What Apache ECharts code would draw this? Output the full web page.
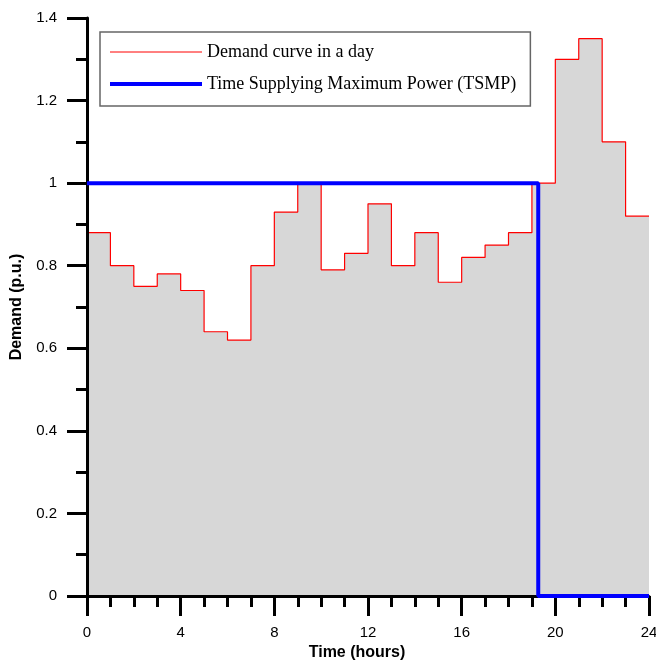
<!DOCTYPE html>
<html><head><meta charset="utf-8">
<script src="https://cdn.jsdelivr.net/npm/echarts@6/dist/echarts.min.js"></script>
<style>html,body{margin:0;padding:0;background:#fff}#c{width:656px;height:662px}</style>
</head><body><div id="c"></div>
<script>
const hours = [0,1,2,3,4,5,6,7,8,9,10,11,12,13,14,15,16,17,18,19,20,21,22,23,24];
const demand = [0.88,0.80,0.75,0.78,0.74,0.64,0.62,0.80,0.93,1.00,0.79,0.83,0.95,0.80,0.88,0.76,0.82,0.85,0.88,1.00,1.30,1.35,1.10,0.92,0.92];
const tsmpX = [0,19.27,19.27,24];
const tsmpY = [1,1,0,0];
const xTicks = [0,4,8,12,16,20,24];
const yTicks = [0,0.2,0.4,0.6,0.8,1,1.2,1.4];

const chart = echarts.init(document.getElementById('c'));
chart.setOption({
  animation:false,
  grid:{left:87,right:7,top:18,bottom:66,outerBoundsMode:'none',containLabel:false},
  legend:{
    orient:'vertical', left:100, top:32,
    padding:[11,14,13,8], itemWidth:92, itemHeight:14, itemGap:14,
    borderColor:'#666', borderWidth:1.5, backgroundColor:'#fff',
    textStyle:{fontFamily:'Liberation Serif, Times New Roman, serif', fontSize:18, color:'#000'},
    data:[
      {name:'Demand curve in a day', lineStyle:{width:1}, itemStyle:{opacity:0}},
      {name:'Time Supplying Maximum Power (TSMP)', lineStyle:{width:4}, itemStyle:{opacity:0}}
    ]
  },
  xAxis:{
    type:'value', min:0, max:24, interval:4, z:3,
    name:'Time (hours)', nameLocation:'middle', nameGap:48,
    nameTextStyle:{fontFamily:'Liberation Sans, Arial', fontWeight:'bold', fontSize:16, color:'#000', padding:[0,22,0,0]},
    axisLine:{lineStyle:{color:'#000',width:3}},
    axisTick:{length:20,lineStyle:{color:'#000',width:3}},
    minorTick:{show:true,splitNumber:4,length:11,lineStyle:{color:'#000',width:3}},
    axisLabel:{margin:29,fontFamily:'Liberation Sans, Arial',fontSize:15,color:'#000',
      formatter:v=>xTicks.includes(v)?String(v):''},
    splitLine:{show:false}
  },
  yAxis:{
    type:'value', min:0, max:1.4, interval:0.2, z:3,
    name:'Demand (p.u.)', nameLocation:'middle', nameGap:62,
    nameTextStyle:{fontFamily:'Liberation Sans, Arial', fontWeight:'bold', fontSize:16, color:'#000'},
    axisLine:{show:true,lineStyle:{color:'#000',width:3}},
    axisTick:{show:true,length:20,lineStyle:{color:'#000',width:3}},
    minorTick:{show:true,splitNumber:2,length:11,lineStyle:{color:'#000',width:3}},
    axisLabel:{margin:30,fontFamily:'Liberation Sans, Arial',fontSize:15,color:'#000',
      formatter:v=>{const t=yTicks.find(k=>Math.abs(k-v)<1e-6);return t===undefined?'':String(t);}},
    splitLine:{show:false}
  },
  series:[
    {name:'Demand curve in a day', type:'line', step:'end', symbol:'none', z:2,
     data:hours.map((h,i)=>[h,demand[i]]),
     lineStyle:{color:'#ff0000',width:1.2},
     itemStyle:{color:'#ff0000'},
     areaStyle:{color:'#d7d7d7',opacity:1}},
    {name:'Time Supplying Maximum Power (TSMP)', type:'line', symbol:'none', z:5,
     data:tsmpX.map((x,i)=>[x,tsmpY[i]]),
     lineStyle:{color:'#0000ff',width:4},
     itemStyle:{color:'#0000ff'}}
  ]
});
</script></body></html>
